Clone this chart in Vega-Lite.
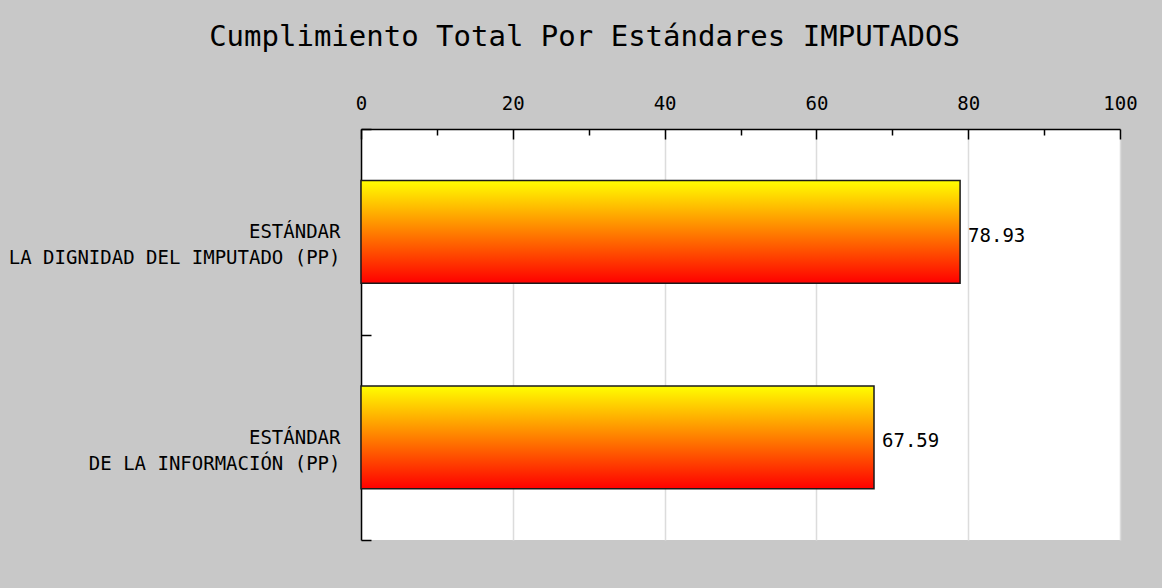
{
  "$schema": "https://vega.github.io/schema/vega-lite/v6.json",
  "width": 759,
  "height": 411,
  "autosize": {"type": "none"},
  "padding": {"left": 361, "top": 129, "right": 42, "bottom": 48},
  "background": "#c8c8c8",
  "title": {
    "text": "Cumplimiento Total Por Estándares IMPUTADOS",
    "font": "DejaVu Sans Mono",
    "fontSize": 29,
    "fontWeight": "normal",
    "color": "#000000",
    "anchor": "middle",
    "dx": -156,
    "offset": 38
  },
  "data": {
    "values": [
      {"estandar": "ESTÁNDAR|LA DIGNIDAD DEL IMPUTADO (PP)", "cumplimiento": 78.93},
      {"estandar": "ESTÁNDAR|DE LA INFORMACIÓN (PP)", "cumplimiento": 67.59}
    ]
  },
  "encoding": {
    "y": {
      "field": "estandar",
      "type": "nominal",
      "sort": null,
      "scale": {"paddingInner": 0, "paddingOuter": 0},
      "axis": {
        "title": null,
        "labelExpr": "split(datum.label, '|')",
        "labelFont": "DejaVu Sans Mono",
        "labelFontSize": 19,
        "labelLineHeight": 26,
        "labelColor": "#000000",
        "labelPadding": 31,
        "labelLimit": 1000,
        "tickBand": "extent",
        "tickSize": -10,
        "tickColor": "#000000",
        "tickWidth": 1.5,
        "domainColor": "#000000",
        "domainWidth": 1.5,
        "grid": false
      }
    },
    "x": {
      "field": "cumplimiento",
      "type": "quantitative",
      "scale": {"domain": [0, 100], "nice": false},
      "axis": {
        "orient": "top",
        "title": null,
        "values": [0, 10, 20, 30, 40, 50, 60, 70, 80, 90, 100],
        "labelExpr": "datum.value % 20 === 0 ? datum.label : ''",
        "labelOverlap": false,
        "labelFlush": false,
        "labelFont": "DejaVu Sans Mono",
        "labelFontSize": 19,
        "labelColor": "#000000",
        "labelPadding": 26,
        "tickSize": {"condition": {"test": "datum.value % 20 === 0", "value": -10}, "value": -6},
        "tickColor": "#000000",
        "tickWidth": 1.5,
        "domainColor": "#000000",
        "domainWidth": 1.5,
        "grid": true,
        "gridColor": "#dcdcdc",
        "gridWidth": 1.5,
        "gridOpacity": {"condition": {"test": "datum.value % 20 === 0", "value": 1}, "value": 0}
      }
    }
  },
  "layer": [
    {
      "mark": {
        "type": "bar",
        "height": {"band": 0.5},
        "color": {
          "gradient": "linear",
          "x1": 0, "y1": 0, "x2": 0, "y2": 1,
          "stops": [
            {"offset": 0, "color": "#ffff00"},
            {"offset": 1, "color": "#ff0000"}
          ]
        },
        "stroke": "#1a1a1a",
        "strokeWidth": 1.5
      }
    },
    {
      "mark": {
        "type": "text",
        "align": "left",
        "baseline": "middle",
        "dx": 8,
        "dy": 4,
        "font": "DejaVu Sans Mono",
        "fontSize": 19,
        "color": "#000000"
      },
      "encoding": {
        "text": {"field": "cumplimiento", "type": "quantitative", "format": ".2f"}
      }
    }
  ],
  "config": {"view": {"fill": "white", "stroke": null}}
}
